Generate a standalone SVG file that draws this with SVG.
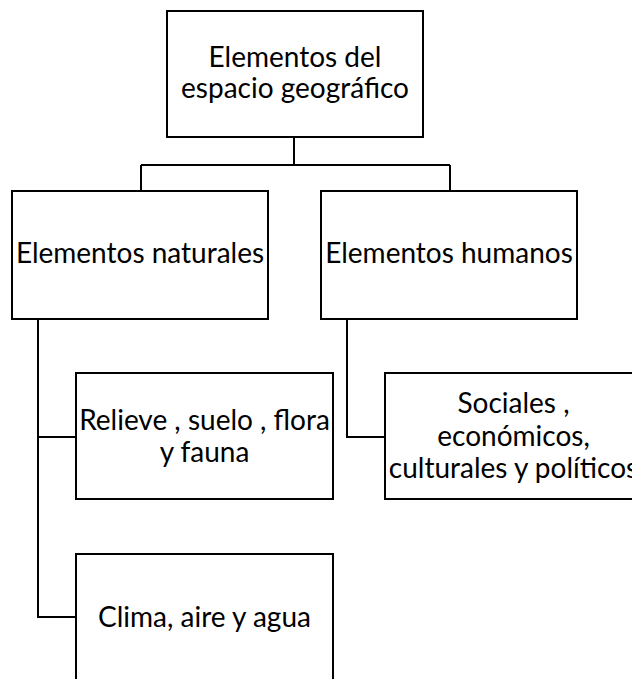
<svg xmlns="http://www.w3.org/2000/svg" width="632" height="679" viewBox="0 0 632 679">
<style>
.box{fill:#fff;stroke:#000;stroke-width:2}
.con{fill:none;stroke:#000;stroke-width:2}
.t{font-family:Lato,"Liberation Sans",sans-serif;font-size:28px;fill:#000;text-anchor:middle}
</style>
<rect width="632" height="679" fill="#fff"/>
<g id="connectors">
<path class="con" d="M294,137 V165 M141,165 H450 M141,165 V191 M450,165 V191"/>
<path class="con" d="M38,319 V617 H76 M38,437 H76"/>
<path class="con" d="M347,319 V437 H385"/>
</g>
<g id="n-root">
<rect class="box" x="167" y="11" width="256" height="126"/>
<text class="t" x="295" y="67">Elementos del</text>
<text class="t" x="295" y="98">espacio geográfico</text>
</g>
<g id="n-naturales">
<rect class="box" x="12" y="191" width="256" height="128"/>
<text class="t" x="140" y="263">Elementos naturales</text>
</g>
<g id="n-humanos">
<rect class="box" x="321" y="191" width="256" height="128"/>
<text class="t" x="449" y="263">Elementos humanos</text>
</g>
<g id="n-relieve">
<rect class="box" x="76" y="373" width="257" height="126"/>
<text class="t" x="204.5" y="430">Relieve , suelo , flora</text>
<text class="t" x="204.5" y="462">y fauna</text>
</g>
<g id="n-clima">
<rect class="box" x="76" y="554" width="257" height="130"/>
<text class="t" x="204.5" y="627">Clima, aire y agua</text>
</g>
<g id="n-sociales">
<rect class="box" x="385" y="373" width="257" height="126"/>
<text class="t" x="513.5" y="413">Sociales ,</text>
<text class="t" x="513.5" y="446">económicos,</text>
<text class="t" x="513.5" y="478">culturales y políticos</text>
</g>
</svg>
